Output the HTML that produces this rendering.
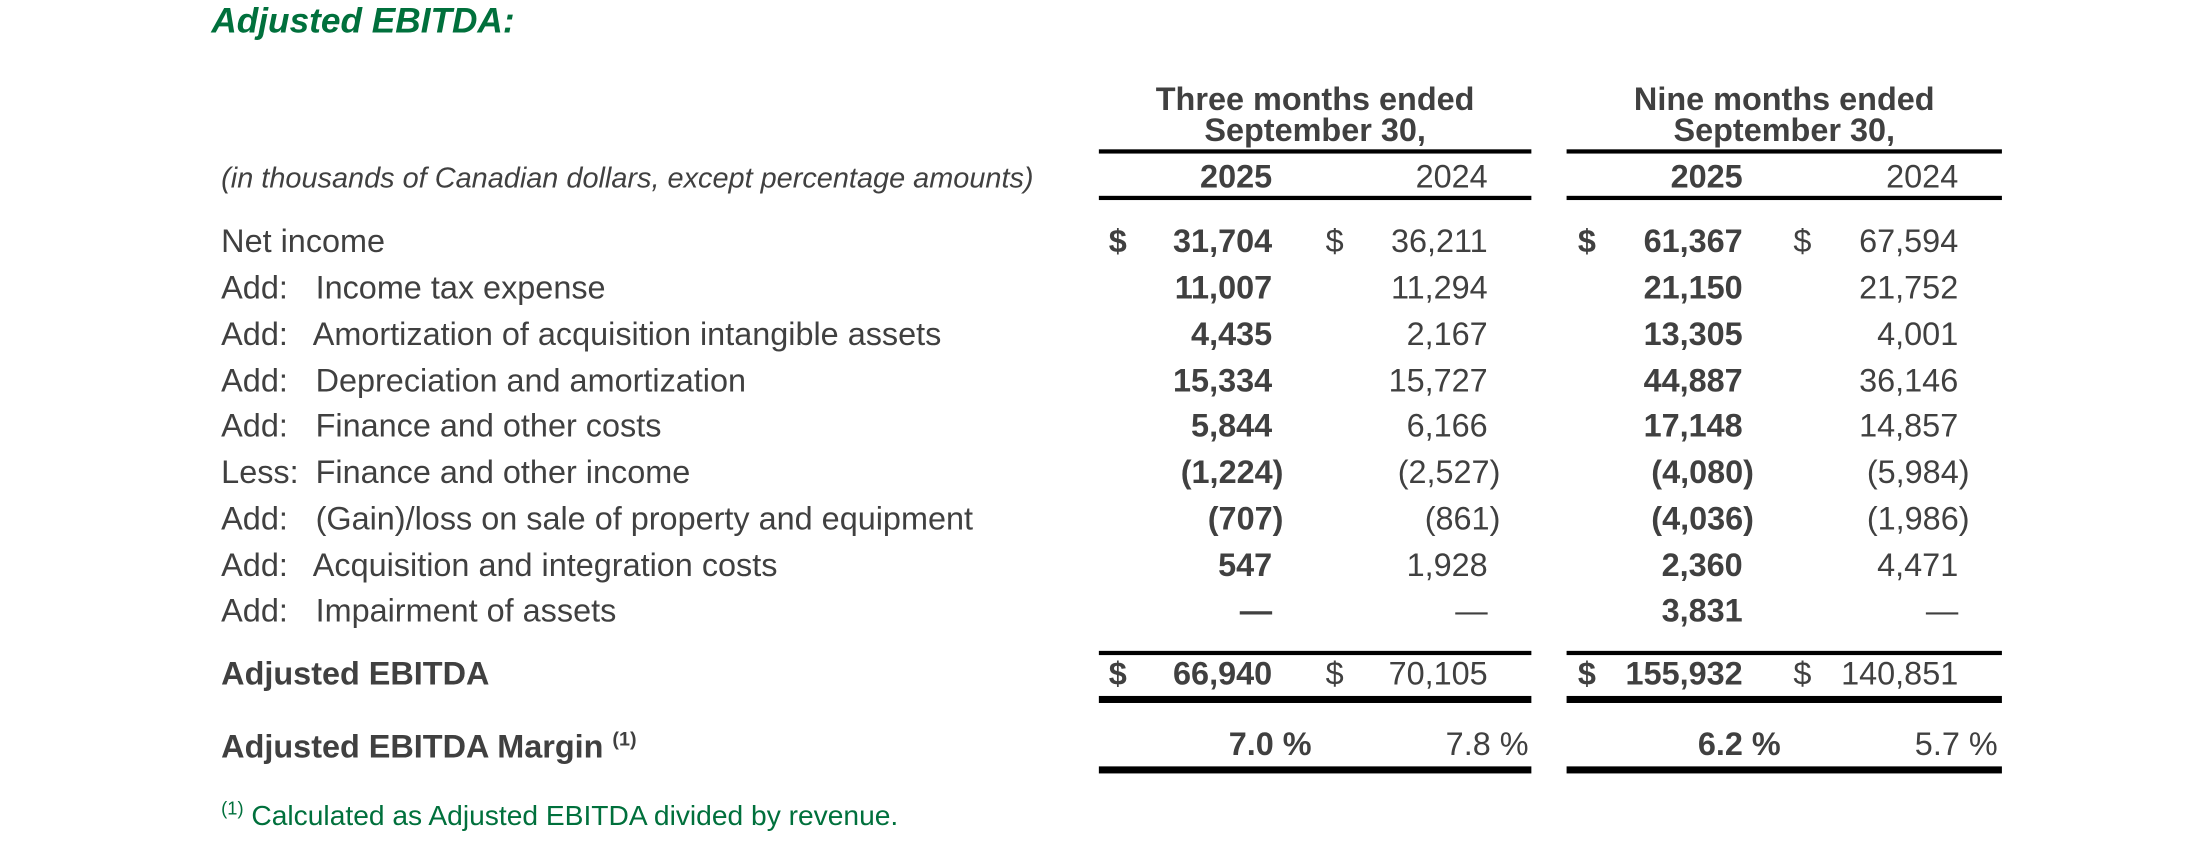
<!DOCTYPE html>
<html><head><meta charset="utf-8"><style>
html,body{margin:0;padding:0;background:#fff;overflow:hidden}
#w{position:absolute;left:0;top:0;width:1568px;height:607px;transform:scale(1.4088);transform-origin:0 0;font-family:"Liberation Sans",Arial,sans-serif;color:#404040}
.t{position:absolute;white-space:nowrap;font-size:23px;line-height:1}
.r{text-align:right}
.b{font-weight:bold}
.ln{position:absolute;background:#000}
</style></head><body><div id="w">
<div class="t b" style="left:150px;top:3px;font-size:25px;font-style:italic;color:#00703c">Adjusted EBITDA:</div>
<div class="t b" style="left:780px;width:307px;text-align:center;top:59px;line-height:22px">Three months ended<br>September 30,</div>
<div class="t b" style="left:1112px;width:309px;text-align:center;top:59px;line-height:22px">Nine months ended<br>September 30,</div>
<div class="ln" style="left:780px;width:307px;top:106px;height:3px"></div>
<div class="ln" style="left:1112px;width:309px;top:106px;height:3px"></div>
<div class="ln" style="left:780px;width:307px;top:139px;height:3px"></div>
<div class="ln" style="left:1112px;width:309px;top:139px;height:3px"></div>
<div class="t" style="left:157px;top:117px;font-size:20.5px;font-style:italic">(in thousands of Canadian dollars, except percentage amounts)</div>
<div class="t b r" style="right:665px;top:114px">2025</div>
<div class="t r" style="right:512px;top:114px">2024</div>
<div class="t b r" style="right:331px;top:114px">2025</div>
<div class="t r" style="right:178px;top:114px">2024</div>
<div class="ln" style="left:780px;width:307px;top:462px;height:3px"></div>
<div class="ln" style="left:1112px;width:309px;top:462px;height:3px"></div>
<div class="ln" style="left:780px;width:307px;top:494px;height:5px"></div>
<div class="ln" style="left:1112px;width:309px;top:494px;height:5px"></div>
<div class="t b" style="left:157px;top:467px">Adjusted EBITDA</div>
<div class="t b" style="left:787px;top:467px">$</div><div class="t b r" style="right:665px;top:467px">66,940</div>
<div class="t" style="left:941px;top:467px">$</div><div class="t r" style="right:512px;top:467px">70,105</div>
<div class="t b" style="left:1120px;top:467px">$</div><div class="t b r" style="right:331px;top:467px">155,932</div>
<div class="t" style="left:1273px;top:467px">$</div><div class="t r" style="right:178px;top:467px">140,851</div>
<div class="t b" style="left:157px;top:517px">Adjusted EBITDA Margin <sup style="font-size:14px">(1)</sup></div>
<div class="t b r" style="right:637px;top:517px">7.0 %</div>
<div class="t r" style="right:483px;top:517px">7.8 %</div>
<div class="t b r" style="right:304px;top:517px">6.2 %</div>
<div class="t r" style="right:150px;top:517px">5.7 %</div>
<div class="ln" style="left:780px;width:307px;top:544px;height:5px"></div>
<div class="ln" style="left:1112px;width:309px;top:544px;height:5px"></div>
<div class="t" style="left:157px;top:567px;font-size:20px;color:#00703c"><sup style="font-size:13px">(1)</sup> Calculated as Adjusted EBITDA divided by revenue.</div>
<div class="t" style="left:157px;top:160px">Net income</div>
<div class="t b" style="left:787px;top:160px">$</div><div class="t b r" style="right:665px;top:160px">31,704</div>
<div class="t" style="left:941px;top:160px">$</div><div class="t r" style="right:512px;top:160px">36,211</div>
<div class="t b" style="left:1120px;top:160px">$</div><div class="t b r" style="right:331px;top:160px">61,367</div>
<div class="t" style="left:1273px;top:160px">$</div><div class="t r" style="right:178px;top:160px">67,594</div>

<div class="t" style="left:157px;top:193px">Add:</div><div class="t" style="left:224px;top:193px">Income tax expense</div>
<div class="t b r" style="right:665px;top:193px">11,007</div><div class="t r" style="right:512px;top:193px">11,294</div>
<div class="t b r" style="right:331px;top:193px">21,150</div><div class="t r" style="right:178px;top:193px">21,752</div>

<div class="t" style="left:157px;top:226px">Add:</div><div class="t" style="left:222px;top:226px">Amortization of acquisition intangible assets</div>
<div class="t b r" style="right:665px;top:226px">4,435</div><div class="t r" style="right:512px;top:226px">2,167</div>
<div class="t b r" style="right:331px;top:226px">13,305</div><div class="t r" style="right:178px;top:226px">4,001</div>

<div class="t" style="left:157px;top:259px">Add:</div><div class="t" style="left:224px;top:259px">Depreciation and amortization</div>
<div class="t b r" style="right:665px;top:259px">15,334</div><div class="t r" style="right:512px;top:259px">15,727</div>
<div class="t b r" style="right:331px;top:259px">44,887</div><div class="t r" style="right:178px;top:259px">36,146</div>

<div class="t" style="left:157px;top:291px">Add:</div><div class="t" style="left:224px;top:291px">Finance and other costs</div>
<div class="t b r" style="right:665px;top:291px">5,844</div><div class="t r" style="right:512px;top:291px">6,166</div>
<div class="t b r" style="right:331px;top:291px">17,148</div><div class="t r" style="right:178px;top:291px">14,857</div>

<div class="t" style="left:157px;top:324px">Less:</div><div class="t" style="left:224px;top:324px">Finance and other income</div>
<div class="t b r" style="right:657px;top:324px">(1,224)</div><div class="t r" style="right:503px;top:324px">(2,527)</div>
<div class="t b r" style="right:323px;top:324px">(4,080)</div><div class="t r" style="right:170px;top:324px">(5,984)</div>

<div class="t" style="left:157px;top:357px">Add:</div><div class="t" style="left:224px;top:357px">(Gain)/loss on sale of property and equipment</div>
<div class="t b r" style="right:657px;top:357px">(707)</div><div class="t r" style="right:503px;top:357px">(861)</div>
<div class="t b r" style="right:323px;top:357px">(4,036)</div><div class="t r" style="right:170px;top:357px">(1,986)</div>

<div class="t" style="left:157px;top:390px">Add:</div><div class="t" style="left:222px;top:390px">Acquisition and integration costs</div>
<div class="t b r" style="right:665px;top:390px">547</div><div class="t r" style="right:512px;top:390px">1,928</div>
<div class="t b r" style="right:331px;top:390px">2,360</div><div class="t r" style="right:178px;top:390px">4,471</div>

<div class="t" style="left:157px;top:422px">Add:</div><div class="t" style="left:224px;top:422px">Impairment of assets</div>
<div class="t b r" style="right:665px;top:422px">—</div><div class="t r" style="right:512px;top:422px">—</div>
<div class="t b r" style="right:331px;top:422px">3,831</div><div class="t r" style="right:178px;top:422px">—</div>
</div></body></html>
